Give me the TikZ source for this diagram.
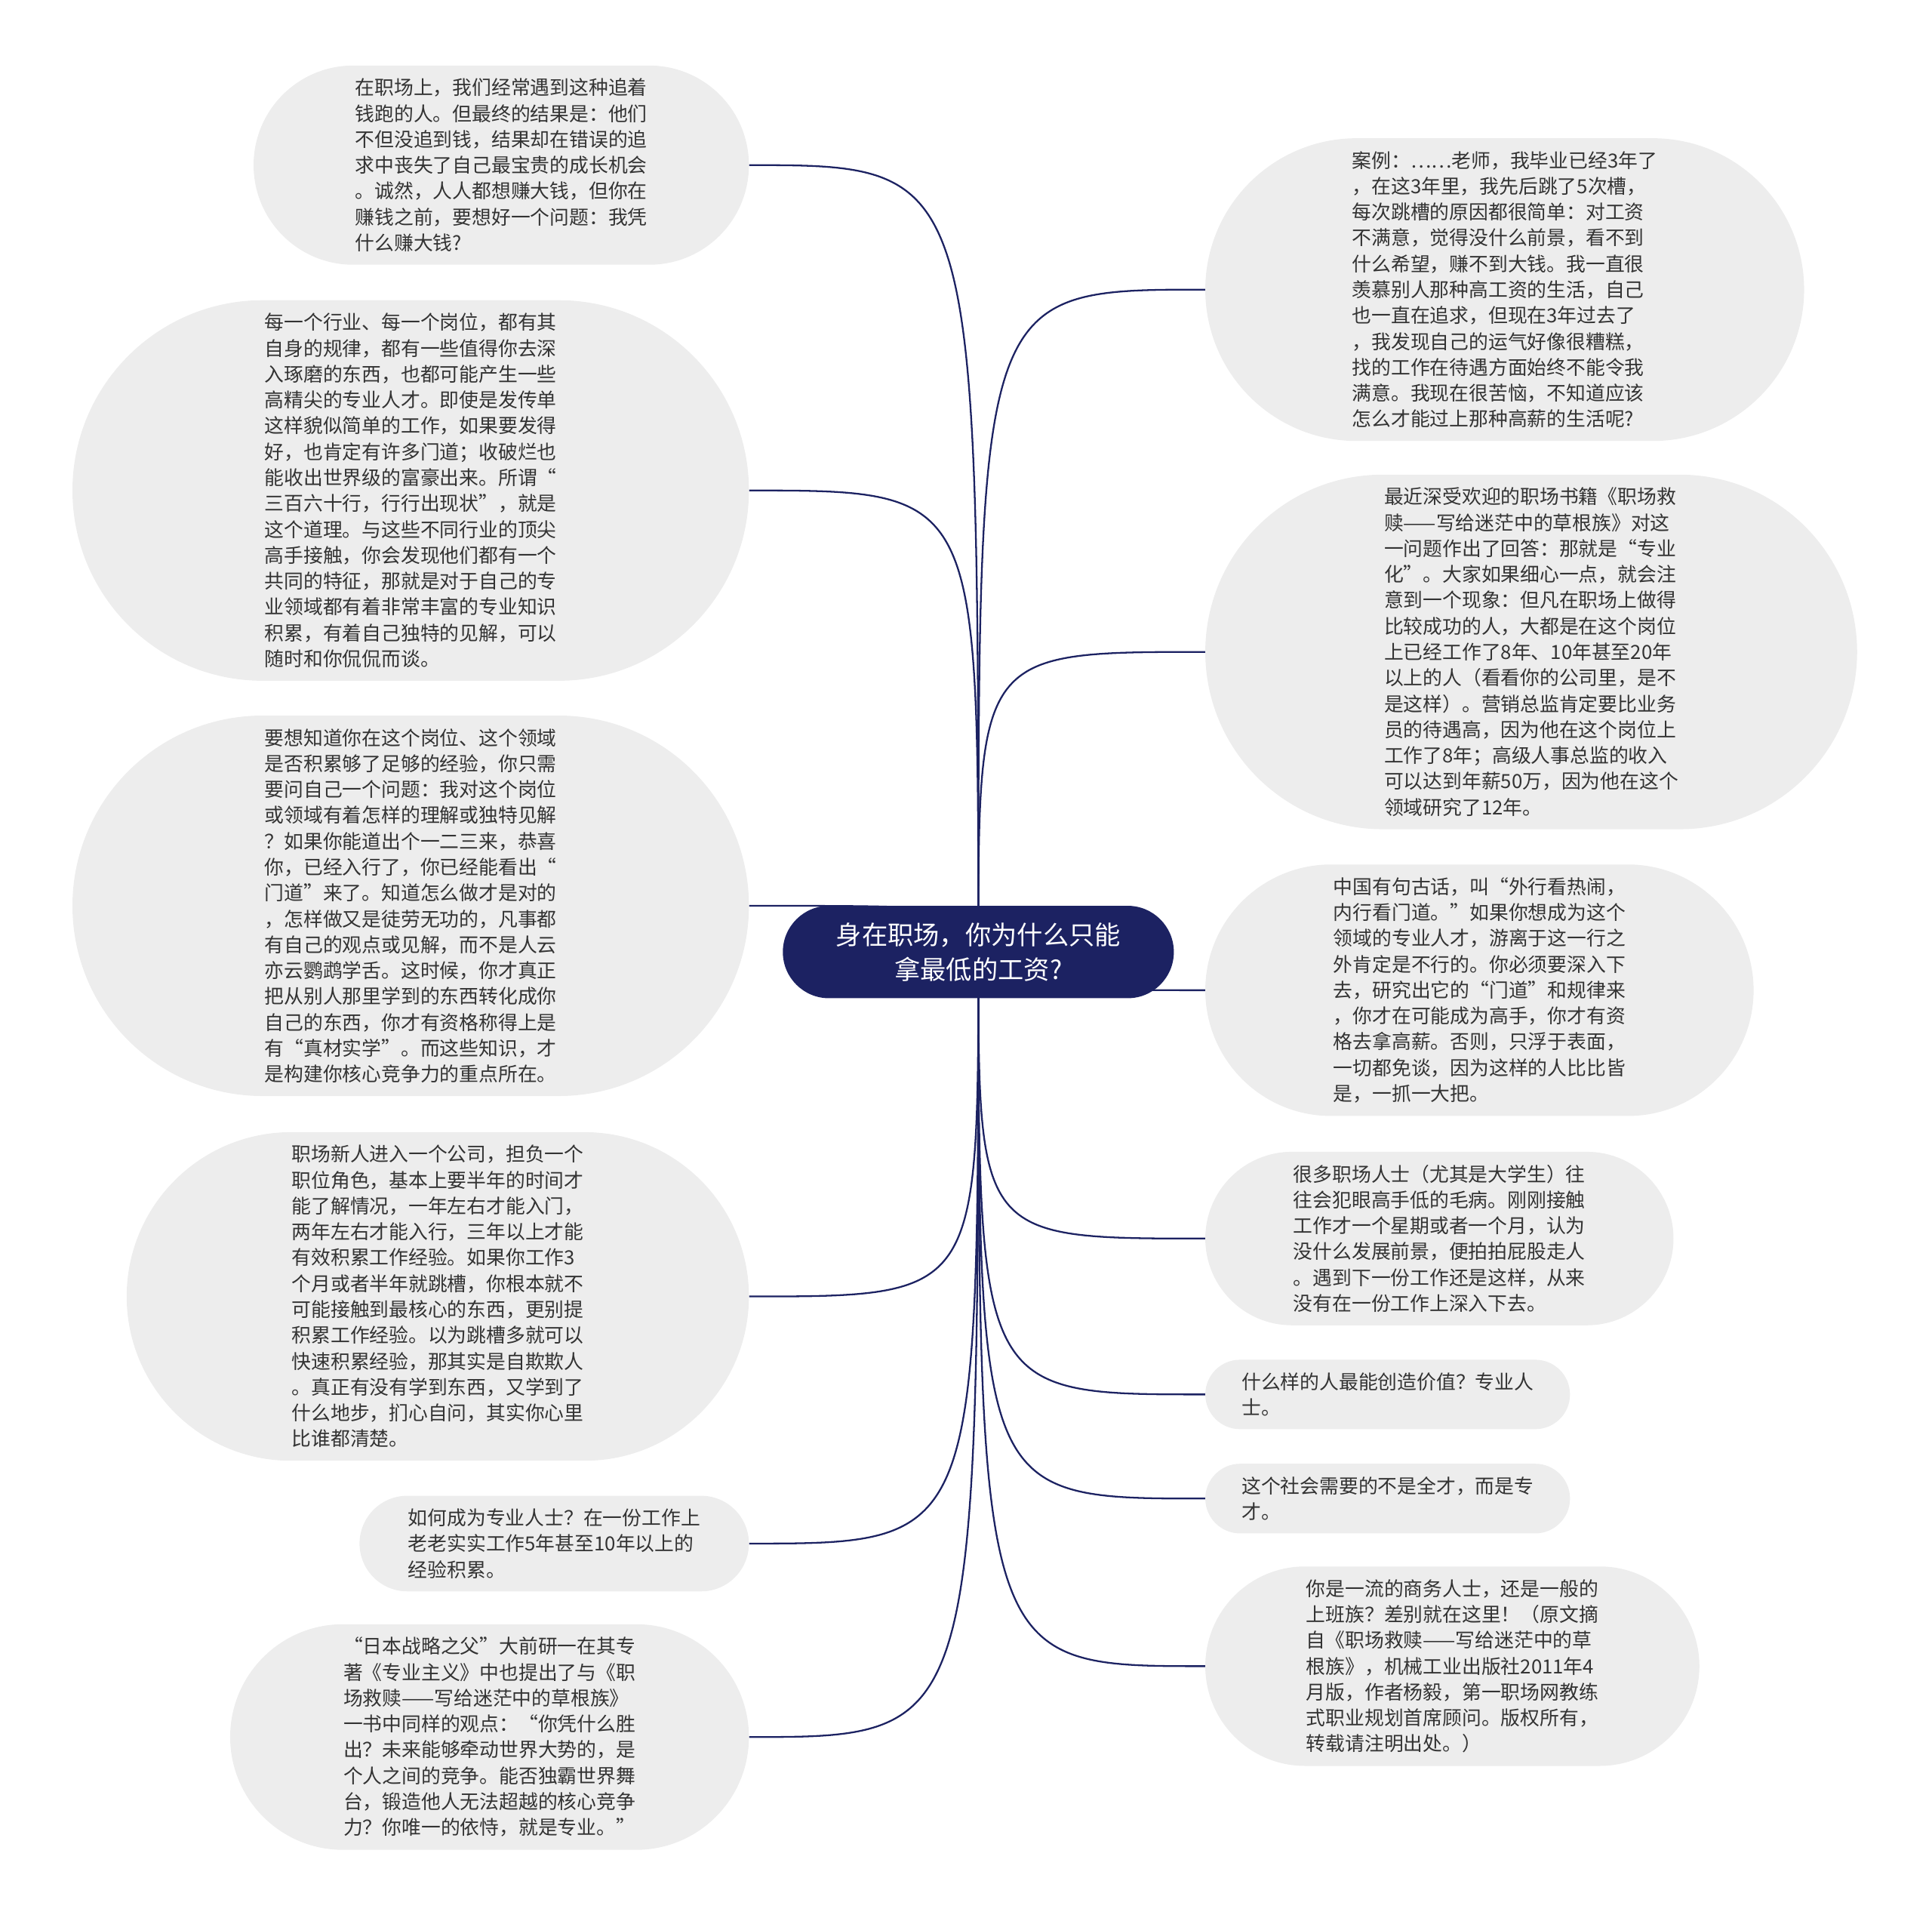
\documentclass[tikz,border=0pt]{standalone}
\usepackage{fontspec}
\setmainfont{Noto Sans CJK SC}
\usepackage{xcolor}
\usepackage{tikz}
\usetikzlibrary{shapes.misc, backgrounds}

\definecolor{navy}{HTML}{1C2262}
\definecolor{bubble}{HTML}{EDEDED}
\definecolor{ink}{HTML}{333333}

\begin{document}
\begin{tikzpicture}[x=1pt, y=1pt]
	% Styles
	\tikzstyle{topic} = [rounded rectangle, fill=navy, text=white, align=center, minimum width=324pt, minimum height=75pt, font=\fontsize{21}{28}\selectfont]
	\tikzstyle{idea} = [rounded rectangle, fill=bubble, text=ink, align=left, inner xsep=4pt, inner ysep=10.5pt, font=\fontsize{15.8}{21}\selectfont]
	\tikzstyle{link} = [draw=navy, line width=1.4pt]

	\useasboundingbox (0,0) rectangle (1568,-1556);

	% Nodes
	\node (root) [topic] at (794,-772.5) {身在职场，你为什么只能\\拿最低的工资?};

	\node (l1) [idea, anchor=east, minimum width=410pt] at (608,-134) {在职场上，我们经常遇到这种追着\\钱跑的人。但最终的结果是：他们\\不但没追到钱，结果却在错误的追\\求中丧失了自己最宝贵的成长机会\\。诚然，人人都想赚大钱，但你在\\赚钱之前，要想好一个问题：我凭\\什么赚大钱?};
	\node (l2) [idea, anchor=east, minimum width=557pt] at (608,-398) {每一个行业、每一个岗位，都有其\\自身的规律，都有一些值得你去深\\入琢磨的东西，也都可能产生一些\\高精尖的专业人才。即使是发传单\\这样貌似简单的工作，如果要发得\\好，也肯定有许多门道；收破烂也\\能收出世界级的富豪出来。所谓“\\三百六十行，行行出现状”，就是\\这个道理。与这些不同行业的顶尖\\高手接触，你会发现他们都有一个\\共同的特征，那就是对于自己的专\\业领域都有着非常丰富的专业知识\\积累，有着自己独特的见解，可以\\随时和你侃侃而谈。};
	\node (l3) [idea, anchor=east, minimum width=557pt] at (608,-735) {要想知道你在这个岗位、这个领域\\是否积累够了足够的经验，你只需\\要问自己一个问题：我对这个岗位\\或领域有着怎样的理解或独特见解\\？如果你能道出个一二三来，恭喜\\你，已经入行了，你已经能看出“\\门道”来了。知道怎么做才是对的\\，怎样做又是徒劳无功的，凡事都\\有自己的观点或见解，而不是人云\\亦云鹦鹉学舌。这时候，你才真正\\把从别人那里学到的东西转化成你\\自己的东西，你才有资格称得上是\\有“真材实学”。而这些知识，才\\是构建你核心竞争力的重点所在。};
	\node (l4) [idea, anchor=east, minimum width=513pt] at (608,-1052) {职场新人进入一个公司，担负一个\\职位角色，基本上要半年的时间才\\能了解情况，一年左右才能入门，\\两年左右才能入行，三年以上才能\\有效积累工作经验。如果你工作3\\个月或者半年就跳槽，你根本就不\\可能接触到最核心的东西，更别提\\积累工作经验。以为跳槽多就可以\\快速积累经验，那其实是自欺欺人\\。真正有没有学到东西，又学到了\\什么地步，扪心自问，其实你心里\\比谁都清楚。};
	\node (l5) [idea, anchor=east, minimum width=324pt] at (608,-1252.5) {如何成为专业人士？在一份工作上\\老老实实工作5年甚至10年以上的\\经验积累。};
	\node (l6) [idea, anchor=east, minimum width=429pt] at (608,-1409.5) {“日本战略之父”大前研一在其专\\著《专业主义》中也提出了与《职\\场救赎——写给迷茫中的草根族》\\一书中同样的观点：“你凭什么胜\\出？未来能够牵动世界大势的，是\\个人之间的竞争。能否独霸世界舞\\台，锻造他人无法超越的核心竞争\\力？你唯一的依恃，就是专业。”};

	\node (r1) [idea, anchor=west, minimum width=494pt] at (978,-235) {案例：……老师，我毕业已经3年了\\，在这3年里，我先后跳了5次槽，\\每次跳槽的原因都很简单：对工资\\不满意，觉得没什么前景，看不到\\什么希望，赚不到大钱。我一直很\\羡慕别人那种高工资的生活，自己\\也一直在追求，但现在3年过去了\\，我发现自己的运气好像很糟糕，\\找的工作在待遇方面始终不能令我\\满意。我现在很苦恼，不知道应该\\怎么才能过上那种高薪的生活呢?};
	\node (r2) [idea, anchor=west, minimum width=537pt] at (978,-529) {最近深受欢迎的职场书籍《职场救\\赎——写给迷茫中的草根族》对这\\一问题作出了回答：那就是“专业\\化”。大家如果细心一点，就会注\\意到一个现象：但凡在职场上做得\\比较成功的人，大都是在这个岗位\\上已经工作了8年、10年甚至20年\\以上的人（看看你的公司里，是不\\是这样）。营销总监肯定要比业务\\员的待遇高，因为他在这个岗位上\\工作了8年；高级人事总监的收入\\可以达到年薪50万，因为他在这个\\领域研究了12年。};
	\node (r3) [idea, anchor=west, minimum width=453pt] at (978,-803.5) {中国有句古话，叫“外行看热闹，\\内行看门道。”如果你想成为这个\\领域的专业人才，游离于这一行之\\外肯定是不行的。你必须要深入下\\去，研究出它的“门道”和规律来\\，你才在可能成为高手，你才有资\\格去拿高薪。否则，只浮于表面，\\一切都免谈，因为这样的人比比皆\\是，一抓一大把。};
	\node (r4) [idea, anchor=west, minimum width=388pt] at (978,-1005) {很多职场人士（尤其是大学生）往\\往会犯眼高手低的毛病。刚刚接触\\工作才一个星期或者一个月，认为\\没什么发展前景，便拍拍屁股走人\\。遇到下一份工作还是这样，从来\\没有在一份工作上深入下去。};
	\node (r5) [idea, anchor=west, minimum width=304pt] at (978,-1131.5) {什么样的人最能创造价值？专业人\\士。};
	\node (r6) [idea, anchor=west, minimum width=304pt] at (978,-1216) {这个社会需要的不是全才，而是专\\才。};
	\node (r7) [idea, anchor=west, minimum width=409pt] at (978,-1352) {你是一流的商务人士，还是一般的\\上班族？差别就在这里！（原文摘\\自《职场救赎——写给迷茫中的草\\根族》，机械工业出版社2011年4\\月版，作者杨毅，第一职场网教练\\式职业规划首席顾问。版权所有，\\转载请注明出处。）};

	% Connections
	\begin{scope}[on background layer]
		\draw [link] (root.center) .. controls (root.center |- l1.east) .. (l1.east);
		\draw [link] (root.center) .. controls (root.center |- l2.east) .. (l2.east);
		\draw [link] (root.center) .. controls (root.center |- l3.east) .. (l3.east);
		\draw [link] (root.center) .. controls (root.center |- l4.east) .. (l4.east);
		\draw [link] (root.center) .. controls (root.center |- l5.east) .. (l5.east);
		\draw [link] (root.center) .. controls (root.center |- l6.east) .. (l6.east);
		\draw [link] (root.center) .. controls (root.center |- r1.west) .. (r1.west);
		\draw [link] (root.center) .. controls (root.center |- r2.west) .. (r2.west);
		\draw [link] (root.center) .. controls (root.center |- r3.west) .. (r3.west);
		\draw [link] (root.center) .. controls (root.center |- r4.west) .. (r4.west);
		\draw [link] (root.center) .. controls (root.center |- r5.west) .. (r5.west);
		\draw [link] (root.center) .. controls (root.center |- r6.west) .. (r6.west);
		\draw [link] (root.center) .. controls (root.center |- r7.west) .. (r7.west);
	\end{scope}

\end{tikzpicture}
\end{document}
